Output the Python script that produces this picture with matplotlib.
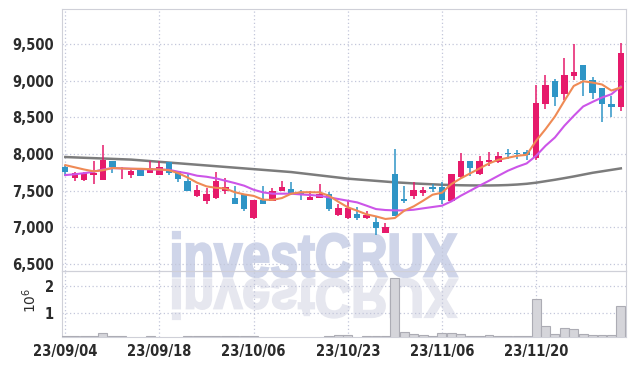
import numpy as np
import matplotlib.pyplot as plt
from matplotlib.textpath import TextPath
from matplotlib.patches import PathPatch
from matplotlib.font_manager import FontProperties
from matplotlib.transforms import Affine2D, IdentityTransform
from matplotlib.ticker import FuncFormatter

# daily candles (KRW)
opens = [7830, 7680, 7640, 7720, 7650, 7905, 7795, 7718, 7805, 7745,
         7720, 7886, 7765, 7636, 7432, 7364, 7396, 7500, 7400, 7455,
         7132, 7378, 7364, 7496, 7519, 7480, 7378, 7405, 7455, 7169,
         7123, 7182, 7128, 7074, 6928, 7732, 7387, 7432, 7473, 7550,
         7550, 7364, 7691, 7905, 7723, 7891, 7891, 8020, 8015, 8023,
         7941, 8686, 8994, 8822, 9067, 9212, 9017, 8903, 8681, 8636]
highs = [7845, 7760, 7760, 7910, 8120, 7910, 7830, 7800, 7815, 7900,
         7900, 7890, 7770, 7737, 7582, 7541, 7750, 7669, 7559, 7460,
         7380, 7559, 7532, 7628, 7614, 7510, 7500, 7591, 7480, 7319,
         7373, 7282, 7220, 7150, 7060, 8068, 7568, 7614, 7555, 7587,
         7614, 7730, 8010, 7910, 7968, 8027, 8027, 8068, 8060, 8050,
         8949, 9080, 9020, 9317, 9498, 9215, 9050, 8905, 8795, 9510]
lows = [7700, 7630, 7630, 7590, 7640, 7740, 7665, 7677, 7695, 7740,
        7710, 7718, 7623, 7495, 7414, 7323, 7390, 7459, 7320, 7220,
        7120, 7320, 7360, 7490, 7445, 7380, 7370, 7400, 7220, 7160,
        7118, 7105, 7120, 6897, 6920, 7150, 7332, 7382, 7432, 7478,
        7314, 7355, 7670, 7705, 7715, 7832, 7885, 7932, 7940, 7925,
        7920, 8622, 8650, 8735, 9013, 8795, 8758, 8432, 8500, 8590]
closes = [7750, 7740, 7740, 7745, 7920, 7825, 7800, 7773, 7705, 7810,
          7823, 7745, 7665, 7500, 7510, 7455, 7636, 7550, 7323, 7250,
          7378, 7323, 7496, 7550, 7451, 7450, 7418, 7455, 7250, 7264,
          7264, 7128, 7169, 6992, 7006, 7160, 7364, 7510, 7514, 7527,
          7378, 7723, 7905, 7805, 7905, 7923, 7973, 8005, 8005, 7990,
          8695, 8940, 8776, 9076, 9117, 9013, 8840, 8686, 8645, 9376]
volume = [0.11, 0.11, 0.11, 0.11, 0.22, 0.11, 0.11, 0.05, 0.05, 0.11,
          0.05, 0.05, 0.05, 0.11, 0.11, 0.11, 0.11, 0.11, 0.11, 0.11,
          0.11, 0.05, 0.05, 0.05, 0.05, 0.05, 0.05, 0.05, 0.10, 0.14,
          0.14, 0.05, 0.10, 0.10, 0.10, 2.31, 0.25, 0.18, 0.14, 0.10,
          0.22, 0.22, 0.18, 0.10, 0.10, 0.14, 0.10, 0.10, 0.10, 0.10,
          1.51, 0.48, 0.18, 0.41, 0.37, 0.18, 0.14, 0.14, 0.14, 1.24]  # millions

# moving average lines as drawn
ma5 = [7850, 7820, 7790, 7765, 7780, 7810, 7805, 7800, 7800, 7795,
       7790, 7780, 7740, 7680, 7610, 7560, 7540, 7530, 7480, 7450,
       7430, 7378, 7375, 7400, 7460, 7480, 7480, 7478, 7432, 7350,
       7274, 7228, 7178, 7150, 7115, 7128, 7228, 7287, 7364, 7446,
       7473, 7591, 7669, 7737, 7805, 7873, 7923, 7950, 7977, 7990,
       8181, 8340, 8513, 8726, 8930, 8994, 8976, 8950, 8867, 8910]
ma10 = [7714, 7725, 7740, 7759, 7790, 7809, 7805, 7800, 7795, 7792,
        7790, 7786, 7759, 7737, 7705, 7691, 7669, 7637, 7605, 7569,
        7514, 7478, 7460, 7460, 7460, 7450, 7442, 7432, 7410, 7387,
        7364, 7341, 7296, 7250, 7237, 7232, 7232, 7241, 7260, 7278,
        7296, 7355, 7432, 7500, 7570, 7636, 7705, 7773, 7827, 7873,
        7977, 8113, 8227, 8386, 8522, 8650, 8713, 8772, 8817, 8922]
ma_long = [7960, 7955, 7950, 7945, 7940, 7935, 7930, 7925, 7915, 7905,
           7895, 7885, 7875, 7865, 7855, 7845, 7835, 7825, 7815, 7805,
           7795, 7785, 7775, 7765, 7755, 7740, 7725, 7710, 7695, 7680,
           7665, 7655, 7645, 7635, 7625, 7615, 7608, 7600, 7594, 7588,
           7582, 7578, 7575, 7573, 7572, 7572, 7574, 7578, 7585, 7595,
           7610, 7630, 7650, 7672, 7695, 7720, 7745, 7765, 7785, 7805]

tick_pos = [0, 10, 20, 30, 40, 50]
tick_labels = ['23/09/04', '23/09/18', '23/10/06', '23/10/23', '23/11/06', '23/11/20']

UP = '#e61a6b'
DOWN = '#2f95c6'
GRID = '#c3c7da'
SPINE = '#cfd0d8'
TXT = '#2b2b2b'
font = ['DejaVu Sans Condensed', 'DejaVu Sans']

fig = plt.figure(figsize=(6.34, 3.66), dpi=100)
fig.patch.set_facecolor('white')

# watermark + reflection, in pixel coords
tp = TextPath((0, 0), 'investCRUX', size=100,
              prop=FontProperties(family='Liberation Sans', weight='bold'))
ext = tp.get_extents()
tr_main = Affine2D().translate(-ext.x0, -ext.y0).scale(284 / ext.width, 45 / ext.height).translate(173, 89)
tr_refl = Affine2D().translate(-ext.x0, -ext.y0).scale(284 / ext.width, -40 / ext.height).translate(173, 87)
fig.add_artist(PathPatch(tr_main.transform_path(tp), transform=IdentityTransform(),
                         facecolor='#cfd5e9', edgecolor='#cfd5e9', linewidth=1.6, zorder=-5))
fig.add_artist(PathPatch(tr_refl.transform_path(tp), transform=IdentityTransform(),
                         facecolor='#e6e7ef', edgecolor='#e6e7ef', linewidth=1.6, zorder=-5))

ax = fig.add_axes([62 / 634, 1 - 271 / 366, 564 / 634, 262 / 366])
axv = fig.add_axes([62 / 634, 1 - 337 / 366, 564 / 634, 66 / 366], sharex=ax)

x = np.arange(len(opens))
o = np.array(opens)
c = np.array(closes)
cols = [UP if cc >= oo else DOWN for oo, cc in zip(o, c)]

ax.vlines(x, lows, highs, colors=cols, linewidth=1.1, zorder=3)
body_h = np.maximum(np.abs(c - o), 8)
ax.bar(x, body_h, bottom=np.minimum(o, c), width=0.68, color=cols, zorder=4)

ax.plot(x, ma_long, color='#7c7c7c', linewidth=1.8, zorder=2)
ax.plot(x, ma10, color='#cc55e8', linewidth=1.5, zorder=5)
ax.plot(x, ma5, color='#ef8a55', linewidth=1.5, zorder=6)

ax.set_xlim(-0.35, 59.55)
ax.set_ylim(6405, 9980)
ax.set_yticks([6500, 7000, 7500, 8000, 8500, 9000, 9500])
ax.yaxis.set_major_formatter(FuncFormatter(lambda v, p: f'{v:,.0f}'))

axv.bar(x, volume, width=0.95, color='#d5d5da', edgecolor='#acacb4', linewidth=0.8, zorder=3)
axv.set_ylim(0.07, 2.58)
axv.set_yticks([1, 2])
axv.set_xticks(tick_pos)
axv.set_xticklabels(tick_labels)

for a in (ax, axv):
    a.set_facecolor('none')
    a.grid(True, color=GRID, linestyle=(0, (1, 2)), linewidth=0.9)
    a.set_axisbelow(True)
    for s in a.spines.values():
        s.set_color(SPINE)
    a.tick_params(length=0, colors=TXT, labelsize=10.5, pad=6)
    for lab in a.get_xticklabels() + a.get_yticklabels():
        lab.set_family(font)
        lab.set_fontstretch('condensed')
        lab.set_fontweight('bold')
ax.tick_params(labelbottom=False)
axv.tick_params(axis='x', pad=5)

fig.text(30 / 634, 1 - 300 / 366, r'$10^6$', rotation=90, ha='center', va='center',
         fontsize=10, color=TXT)

fig.savefig('out.png', dpi=100)
